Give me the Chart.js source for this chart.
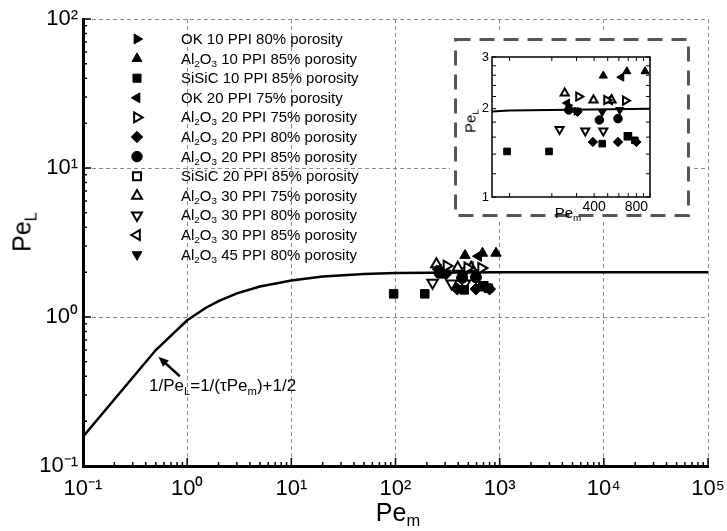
<!DOCTYPE html>
<html>
<head>
<meta charset="utf-8">
<script src="https://cdn.jsdelivr.net/npm/chart.js@4.4.1/dist/chart.umd.min.js"></script>
<style>
  html, body { margin: 0; padding: 0; background: #fff; }
  #wrap { position: relative; width: 727px; height: 531px; font-family: "Liberation Sans", Arial, sans-serif; color: #000; }
  #main { position: absolute; left: 0; top: 0; }
  #inset { position: absolute; left: 450px; top: 33px; }
  .t { position: absolute; white-space: nowrap; line-height: 1; }
  .t sub, #legend sub { font-size: 0.66em; vertical-align: -0.35em; line-height: 0; }
  .rot { transform: translate(-50%, -50%) rotate(-90deg); }
  .ctr { transform: translate(-50%, -50%); }
  #legend { position: absolute; left: 181px; top: 29px; font-size: 15px; }
  #legend div { height: 19.6px; line-height: 19.6px; white-space: nowrap; }
</style>
</head>
<body>
<div id="wrap">
  <canvas id="main" width="727" height="531"></canvas>
  <canvas id="inset" width="244" height="188"></canvas>
  <div id="legend"></div>
  <div class="t rot" style="left:22px;top:232px;font-size:25px;">Pe<sub>L</sub></div>
  <div class="t ctr" style="left:398px;top:512px;font-size:25px;">Pe<sub>m</sub></div>
  <div class="t" style="left:149px;top:377px;font-size:17px;">1/Pe<sub>L</sub>=1/(τPe<sub>m</sub>)+1/2</div>
  <div class="t rot" style="left:470px;top:121px;font-size:15px;">Pe<sub>L</sub></div>
  <div class="t ctr" style="left:568px;top:212px;font-size:15px;">Pe<sub>m</sub></div>
</div>
<script>
// series (x = Pe_m, y = Pe_L)
const seriesLabels = [
  "OK 10 PPI 80% porosity",
  "Al2O3 10 PPI 85% porosity",
  "SiSiC 10 PPI 85% porosity",
  "OK 20 PPI 75% porosity",
  "Al2O3 20 PPI 75% porosity",
  "Al2O3 20 PPI 80% porosity",
  "Al2O3 20 PPI 85% porosity",
  "SiSiC 20 PPI 85% porosity",
  "Al2O3 30 PPI 75% porosity",
  "Al2O3 30 PPI 80% porosity",
  "Al2O3 30 PPI 85% porosity",
  "Al2O3 45 PPI 80% porosity"
];
const ok10x = [262, 300];            const ok10y = [2.05, 1.96];
const al10x = [465, 684, 922];       const al10y = [2.59, 2.68, 2.68];
const sisic10x = [96, 191, 457, 696, 780]; const sisic10y = [1.43, 1.43, 1.52, 1.61, 1.56];
const ok20x = [626, 257];            const ok20y = [2.56, 2.09];
const al20a75x = [310, 491, 667];    const al20a75y = [2.20, 2.14, 2.13];
const al20a80x = [392, 592, 800, 305]; const al20a80y = [1.54, 1.54, 1.54, 1.95];
const al20a85x = [264, 436, 592];    const al20a85y = [1.98, 1.83, 1.85];
const sisic20x = [696];              const sisic20y = [1.61];
const al30a75x = [247, 396, 532];    const al30a75y = [2.26, 2.14, 2.14];
const al30a80x = [227, 346, 465];    const al30a80y = [1.70, 1.68, 1.68];
const al30a85x = [515];              const al30a85y = [2.14];
const al45x = [457, 609, 302];       const al45y = [1.95, 1.98, 1.97];

// model curve 1/PeL = 1/(tau Pem) + 1/2
const curveX = [0.1, 0.5, 1, 1.5, 2, 3, 5, 10, 20, 50, 100, 1000, 100000];
const curveY = [0.157, 0.6, 0.95, 1.15, 1.28, 1.44, 1.6, 1.76, 1.87, 1.94, 1.97, 2.0, 2.0];

// axis ticks
const xDecades = [0.1, 1, 10, 100, 1000, 10000, 100000];
const yDecades = [0.1, 1, 10, 100];
const insetXTicks = [100, 200, 300, 400, 500, 600, 700, 800, 900, 1000];
const insetXLabels = [400, 800];
const insetYTicks = [1, 1.2, 1.4, 1.6, 1.8, 2, 2.2, 2.4, 2.6, 2.8, 3];
const insetYLabels = [1, 2, 3];

// annotation arrow (data coords)
const arrowFrom = [0.85, 0.4];
const arrowTo = [0.53, 0.54];

const seriesX = [ok10x, al10x, sisic10x, ok20x, al20a75x, al20a80x, al20a85x, sisic20x, al30a75x, al30a80x, al30a85x, al45x];
const seriesY = [ok10y, al10y, sisic10y, ok20y, al20a75y, al20a80y, al20a85y, sisic20y, al30a75y, al30a80y, al30a85y, al45y];

const styles = [
  { pointStyle: "triangle", rotation: 90, fill: true, r: 6 },
  { pointStyle: "triangle", rotation: 0, fill: true, r: 6 },
  { pointStyle: "rect", rotation: 0, fill: true, r: 6 },
  { pointStyle: "triangle", rotation: -90, fill: true, r: 6 },
  { pointStyle: "triangle", rotation: 90, fill: false, r: 6 },
  { pointStyle: "rectRot", rotation: 0, fill: true, r: 6 },
  { pointStyle: "circle", rotation: 0, fill: true, r: 5.5 },
  { pointStyle: "rect", rotation: 0, fill: false, r: 6 },
  { pointStyle: "triangle", rotation: 0, fill: false, r: 6 },
  { pointStyle: "triangle", rotation: 180, fill: false, r: 6 },
  { pointStyle: "triangle", rotation: -90, fill: false, r: 6 },
  { pointStyle: "triangle", rotation: 180, fill: true, r: 6 }
];

const FONT = '"Liberation Sans", Arial, sans-serif';
const sup = { "-": "⁻", "0": "⁰", "1": "¹", "2": "²", "3": "³", "4": "⁴", "5": "⁵" };
const decadeLabel = (v) => "10" + String(Math.round(Math.log10(v))).split("").map((c) => sup[c]).join("");
const withSubs = (s) => s.replace("Al2O3", "Al<sub>2</sub>O<sub>3</sub>");

document.getElementById("legend").innerHTML = seriesLabels.map((s) => `<div>${withSubs(s)}</div>`).join("");

function minorTicks(decades) {
  const out = [];
  decades.slice(0, -1).forEach((d) => { for (let k = 2; k < 10; k++) out.push(d * k); });
  return out;
}

function buildSets(k, lineW) {
  const sets = seriesX.map((xs, i) => ({
    label: seriesLabels[i],
    data: xs.map((x, j) => ({ x, y: seriesY[i][j] })),
    pointStyle: styles[i].pointStyle,
    pointRotation: styles[i].rotation,
    pointRadius: styles[i].r * k,
    pointHoverRadius: styles[i].r * k,
    pointBackgroundColor: styles[i].fill ? "#000" : "#fff",
    pointBorderColor: "#000",
    pointBorderWidth: styles[i].fill ? 1 : 2
  }));
  sets.push({
    type: "line",
    label: "model",
    data: curveX.map((x, j) => ({ x, y: curveY[j] })),
    borderColor: "#000",
    borderWidth: lineW,
    pointRadius: 0,
    tension: 0,
    fill: false
  });
  return sets;
}

// ticks drawn inward
const inTicks = {
  id: "inTicks",
  afterDraw(chart, args, o) {
    const { ctx, chartArea: a, scales: { x, y } } = chart;
    ctx.save();
    ctx.strokeStyle = "#000";
    ctx.lineWidth = o.width;
    ctx.beginPath();
    o.x.forEach((t) => {
      const px = x.getPixelForValue(t[0]);
      ctx.moveTo(px, a.bottom); ctx.lineTo(px, a.bottom - t[1]);
      if (o.box) { ctx.moveTo(px, a.top); ctx.lineTo(px, a.top + t[1]); }
    });
    o.y.forEach((t) => {
      const py = y.getPixelForValue(t[0]);
      ctx.moveTo(a.left, py); ctx.lineTo(a.left + t[1], py);
      if (o.box) { ctx.moveTo(a.right, py); ctx.lineTo(a.right - t[1], py); }
    });
    ctx.stroke();
    if (o.box) { ctx.lineWidth = 1.5; ctx.strokeRect(a.left, a.top, a.right - a.left, a.bottom - a.top); }
    ctx.restore();
  }
};

// legend markers + arrow on the main chart
const mainExtras = {
  id: "mainExtras",
  afterDraw(chart) {
    const { ctx, scales: { x, y } } = chart;
    ctx.save();
    styles.forEach((s, i) => {
      ctx.fillStyle = s.fill ? "#000" : "#fff";
      ctx.strokeStyle = "#000";
      ctx.lineWidth = s.fill ? 1 : 2;
      Chart.helpers.drawPoint(ctx, { pointStyle: s.pointStyle, rotation: s.rotation, radius: s.r * 0.95, borderWidth: ctx.lineWidth }, 137, 39 + i * 19.6);
    });
    const x0 = x.getPixelForValue(arrowFrom[0]), y0 = y.getPixelForValue(arrowFrom[1]);
    const x1 = x.getPixelForValue(arrowTo[0]), y1 = y.getPixelForValue(arrowTo[1]);
    const ang = Math.atan2(y1 - y0, x1 - x0);
    ctx.strokeStyle = "#000";
    ctx.fillStyle = "#000";
    ctx.lineWidth = 2.5;
    ctx.beginPath();
    ctx.moveTo(x0, y0);
    ctx.lineTo(x1 - 6 * Math.cos(ang), y1 - 6 * Math.sin(ang));
    ctx.stroke();
    ctx.beginPath();
    ctx.moveTo(x1, y1);
    ctx.lineTo(x1 - 11 * Math.cos(ang - 0.4), y1 - 11 * Math.sin(ang - 0.4));
    ctx.lineTo(x1 - 11 * Math.cos(ang + 0.4), y1 - 11 * Math.sin(ang + 0.4));
    ctx.closePath();
    ctx.fill();
    ctx.restore();
  }
};

// inset background and dashed frame
const insetFrame = {
  id: "insetFrame",
  beforeDraw(chart) {
    const { ctx, width, height } = chart;
    ctx.save();
    ctx.fillStyle = "#fff";
    ctx.fillRect(0, 0, width, height);
    ctx.strokeStyle = "#555";
    ctx.lineWidth = 3;
    ctx.setLineDash([15, 9]);
    ctx.strokeRect(5.5, 6.5, 233, 176);
    ctx.restore();
  }
};

new Chart(document.getElementById("main"), {
  type: "scatter",
  data: { datasets: buildSets(1, 2.5) },
  options: {
    responsive: false,
    animation: false,
    events: [],
    layout: { padding: { top: 19, right: 19, left: 0, bottom: 0 } },
    plugins: {
      legend: { display: false },
      tooltip: { enabled: false },
      inTicks: {
        width: 1.5,
        box: false,
        x: xDecades.map((v) => [v, 8]).concat(minorTicks(xDecades).map((v) => [v, 4])),
        y: yDecades.map((v) => [v, 8]).concat(minorTicks(yDecades).map((v) => [v, 4]))
      }
    },
    scales: {
      x: {
        type: "logarithmic",
        min: 0.1,
        max: 100000,
        afterBuildTicks: (s) => { s.ticks = xDecades.map((v) => ({ value: v })); },
        afterFit: (s) => { s.height = 65; s.paddingLeft = 0; s.paddingRight = 0; },
        ticks: { callback: (v) => decadeLabel(v), font: { size: 22, family: FONT }, color: "#000", padding: 10, maxRotation: 0, autoSkip: false },
        grid: { color: "#8a8a8a", lineWidth: 1, drawTicks: false },
        border: { display: true, color: "#000", width: 3, dash: [4, 3] }
      },
      y: {
        type: "logarithmic",
        min: 0.1,
        max: 100,
        afterBuildTicks: (s) => { s.ticks = yDecades.map((v) => ({ value: v })); },
        afterFit: (s) => { s.width = 83; s.paddingTop = 0; s.paddingBottom = 0; },
        ticks: { callback: (v) => decadeLabel(v), font: { size: 22, family: FONT }, color: "#000", padding: 5, autoSkip: false },
        grid: { color: "#8a8a8a", lineWidth: 1, drawTicks: false },
        border: { display: true, color: "#000", width: 3, dash: [4, 3] }
      }
    }
  },
  plugins: [inTicks, mainExtras]
});

new Chart(document.getElementById("inset"), {
  type: "scatter",
  data: { datasets: buildSets(0.78, 2) },
  options: {
    responsive: false,
    animation: false,
    events: [],
    layout: { padding: { top: 24, right: 44, left: 0, bottom: 0 } },
    plugins: {
      legend: { display: false },
      tooltip: { enabled: false },
      inTicks: {
        width: 1,
        box: true,
        x: insetXTicks.map((v) => [v, 4]),
        y: insetYTicks.map((v) => [v, 4])
      }
    },
    scales: {
      x: {
        type: "logarithmic",
        min: 75,
        max: 1000,
        afterBuildTicks: (s) => { s.ticks = insetXTicks.map((v) => ({ value: v })); },
        afterFit: (s) => { s.height = 24; s.paddingLeft = 0; s.paddingRight = 0; },
        ticks: { callback: (v) => (insetXLabels.includes(v) ? String(v) : ""), font: { size: 14, family: FONT }, color: "#000", padding: 2, maxRotation: 0, autoSkip: false },
        grid: { display: false, drawTicks: false },
        border: { display: false }
      },
      y: {
        type: "logarithmic",
        min: 1,
        max: 3,
        afterBuildTicks: (s) => { s.ticks = insetYTicks.map((v) => ({ value: v })); },
        afterFit: (s) => { s.width = 42; s.paddingTop = 0; s.paddingBottom = 0; },
        ticks: { callback: (v) => (insetYLabels.includes(v) ? String(v) : ""), font: { size: 13, family: FONT }, color: "#000", padding: 3, autoSkip: false },
        grid: { display: false, drawTicks: false },
        border: { display: false }
      }
    }
  },
  plugins: [insetFrame, inTicks]
});
</script>
</body>
</html>
